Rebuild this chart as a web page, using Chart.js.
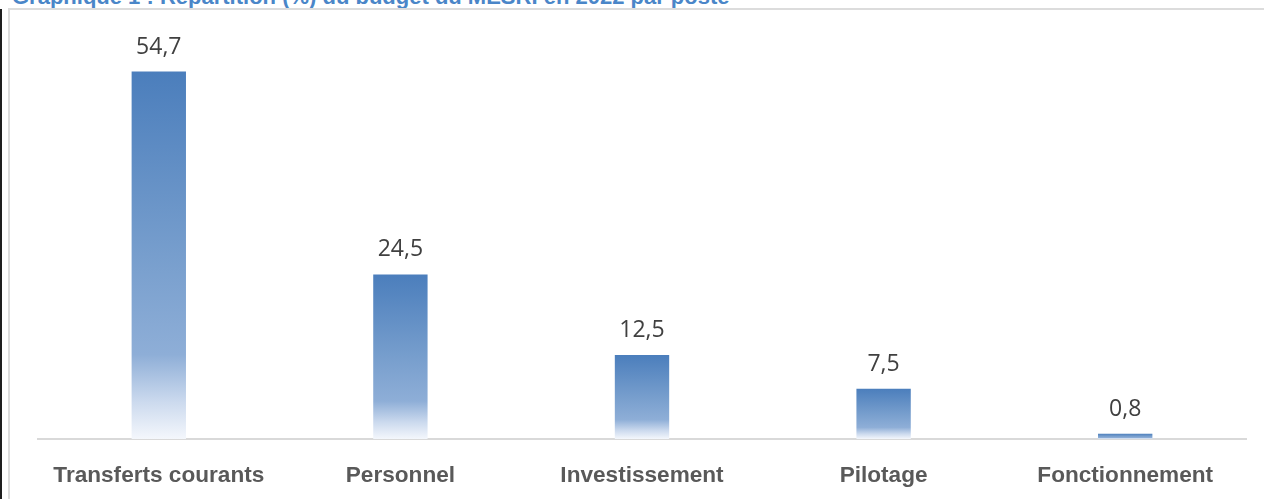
<!DOCTYPE html>
<html>
<head>
<meta charset="utf-8">
<script src="https://cdn.jsdelivr.net/npm/chart.js@4/dist/chart.umd.min.js"></script>
<style>
  html, body { margin: 0; padding: 0; background: #fff; }
  body { width: 1264px; height: 499px; overflow: hidden; position: relative; }
  #title {
    position: absolute; left: 12px; top: -14px; white-space: nowrap;
    font: bold 22px "Liberation Sans", Arial, sans-serif; line-height: 22px;
    color: #4a86c8;
  }
  #edge { position: absolute; left: 0; top: 9px; width: 2px; height: 500px; background: #1e1e1e; }
  #frame { position: absolute; left: 8px; top: 8px; width: 1400px; height: 700px; border: 2px solid #dcdcdc; }
  #wrap { position: absolute; left: 0; top: 0; width: 1264px; height: 499px; }
</style>
</head>
<body>
<div id="title">Graphique 1 : Répartition (%) du budget du MESRI en 2022 par poste</div>
<div id="edge"></div>
<div id="frame"></div>
<div id="wrap"><canvas id="myChart" width="1264" height="499"></canvas></div>
<script>
var categories = ['Transferts courants', 'Personnel', 'Investissement', 'Pilotage', 'Fonctionnement'];
var shares = [54.7, 24.5, 12.5, 7.5, 0.8];

// gradient per bar, dark blue at the top fading to white at the axis
function barFill(context) {
  var chart = context.chart;
  if (!chart.chartArea) return '#4f81bd';
  var y = chart.scales.y;
  var top = y.getPixelForValue(context.raw);
  var bottom = y.getPixelForValue(0);
  var g = chart.ctx.createLinearGradient(0, top, 0, bottom);
  g.addColorStop(0, '#4b7ebc');
  g.addColorStop(0.5, '#779ecd');
  g.addColorStop(0.77, '#8eaed7');
  g.addColorStop(0.9, '#ccdaee');
  g.addColorStop(1, '#f4f7fc');
  return g;
}

var valueLabels = {
  id: 'valueLabels',
  afterDatasetsDraw: function(chart) {
    var ctx = chart.ctx;
    var meta = chart.getDatasetMeta(0);
    ctx.save();
    ctx.font = '23px "Open Sans", sans-serif';
    ctx.fillStyle = '#404040';
    ctx.textAlign = 'center';
    ctx.textBaseline = 'alphabetic';
    meta.data.forEach(function(bar, i) {
      ctx.fillText(String(shares[i]).replace('.', ','), bar.x, bar.y - 18);
    });
    ctx.restore();
  }
};

var ctx = document.getElementById('myChart').getContext('2d');
var barChart = new Chart(ctx, {
  type: 'bar',
  data: {
    labels: categories,
    datasets: [{
      data: shares,
      backgroundColor: barFill,
      borderWidth: 0,
      barPercentage: 0.45,
      categoryPercentage: 0.5
    }]
  },
  options: {
    responsive: false,
    animation: false,
    layout: { padding: { left: 38, right: 18, top: 36, bottom: 1 } },
    plugins: { legend: { display: false }, tooltip: { enabled: false } },
    scales: {
      x: {
        grid: { display: false, drawTicks: false },
        border: { display: true, color: '#d9d9d9', width: 2 },
        afterFit: function(scale) { scale.height = 59; },
        ticks: {
          padding: 14,
          maxRotation: 0,
          minRotation: 0,
          autoSkip: false,
          color: '#595959',
          font: { family: '"Liberation Sans", Arial, sans-serif', size: 22.6, weight: 'bold', lineHeight: 2 }
        }
      },
      y: { display: false, min: 0, max: 60 }
    }
  },
  plugins: [valueLabels]
});
</script>
</body>
</html>
